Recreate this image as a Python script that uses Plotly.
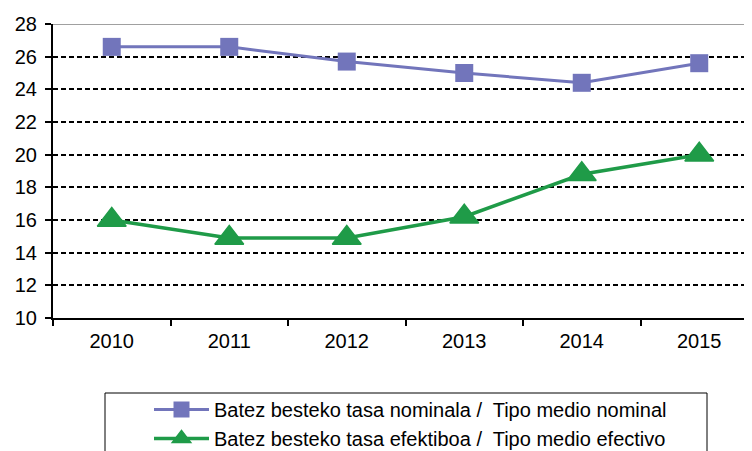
import plotly.graph_objects as go

years = ["2010", "2011", "2012", "2013", "2014", "2015"]
nominal = [26.6, 26.6, 25.7, 25.0, 24.4, 25.6]
efectivo = [16.0, 14.9, 14.9, 16.2, 18.8, 20.0]
y_ticks = [10, 12, 14, 16, 18, 20, 22, 24, 26, 28]
name_nom = "Batez besteko tasa nominala /  Tipo medio nominal"
name_ef = "Batez besteko tasa efektiboa /  Tipo medio efectivo"

# page body has an 8px margin; figure coordinates = screen - 8
OFF = 8
W, H = 752, 451
L = 53 - OFF
T = 24 - OFF
B = H - (318 - OFF)
R = W - (758 - OFF)
pw, ph = W - L - R, H - T - B

xs = list(range(len(years)))

fig = go.Figure()
fig.add_trace(go.Scatter(
    x=xs, y=nominal, name=name_nom, mode="lines+markers",
    line=dict(color="#7275BB", width=3),
    marker=dict(symbol="square", size=18, color="#7275BB"),
    legendgroup="a",
))
fig.add_trace(go.Scatter(
    x=xs, y=efectivo, name=name_ef, mode="lines+markers",
    line=dict(color="#1F9B48", width=3.5),
    marker=dict(symbol="triangle-up", size=25, color="#1F9B48",
                line=dict(color="#1F9B48", width=1.5)),
    legendgroup="b",
))

def px_x(p):
    return (p - OFF - L) / pw

def px_y(p):
    return (H - B - (p - OFF)) / ph

fig.add_shape(type="rect", xref="paper", yref="paper",
              x0=px_x(105), x1=px_x(707), y0=px_y(480), y1=px_y(393),
              line=dict(color="black", width=1), fillcolor="rgba(0,0,0,0)")
fig.add_shape(type="line", xref="paper", yref="y", x0=0, x1=1, y0=28, y1=28,
              line=dict(color="#a0a0a0", width=2), layer="above")

fig.update_layout(
    width=W, height=H,
    margin=dict(l=L, r=R, t=T, b=B, autoexpand=False),
    paper_bgcolor="white", plot_bgcolor="white",
    font=dict(family="Liberation Sans, Arial, sans-serif", color="black"),
    showlegend=True,
    legend=dict(
        x=px_x(149), y=px_y(390), xanchor="left", yanchor="top",
        bgcolor="rgba(0,0,0,0)", borderwidth=0,
        font=dict(size=20, color="black"),
        itemwidth=55, tracegroupgap=0,
    ),
    xaxis=dict(
        range=[-0.5, 5.5], tickmode="array", tickvals=xs, ticktext=years,
        ticks="", showgrid=False, zeroline=False, automargin=False,
        showline=True, linecolor="black", linewidth=2,
        tickfont=dict(size=20), ticklabelstandoff=4,
        minor=dict(tick0=-0.5, dtick=1, ticks="outside", ticklen=6,
                   tickcolor="black", tickwidth=2, showgrid=False),
    ),
    yaxis=dict(
        range=[10, 28], tickmode="array", tickvals=y_ticks,
        ticks="outside", ticklen=6, tickcolor="black", tickwidth=2,
        showgrid=True, gridcolor="black", gridwidth=1.5, griddash="5px,3px",
        zeroline=False, showline=True, linecolor="black", linewidth=2,
        tickfont=dict(size=20), automargin=False, ticklabelstandoff=4,
    ),
)

fig.write_html("out.html")
